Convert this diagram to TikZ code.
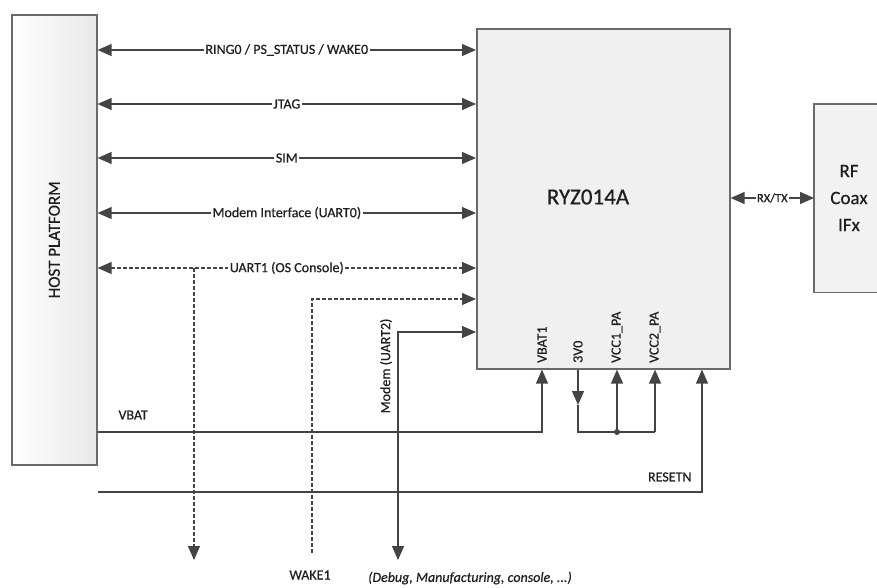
\documentclass[tikz,border=0pt]{standalone}
\usepackage{fontspec}
\setmainfont{Carlito}[FakeBold=0.5]
\usetikzlibrary{arrows.meta, calc}
\definecolor{wire}{HTML}{444444}
\definecolor{frame}{HTML}{6A6A6A}
\definecolor{ink}{HTML}{1E1E1E}

\begin{document}
\begin{tikzpicture}[
    x=1pt, y=-1pt,
    >={Triangle[length=14pt, width=12pt]},
    blk/.style={draw=frame, line width=1.6pt, inner sep=0pt},
    sig/.style={wire, line width=1.3pt},
    sigdash/.style={sig, dash pattern=on 4pt off 2pt},
    lab/.style={font=\fontsize{14}{16}\selectfont, text=ink},
    onwire/.style={lab, fill=white, inner sep=1.5pt},
    pin/.style={lab, rotate=90, anchor=west, inner sep=0pt},
]
% picture is laid out in pixels, y pointing down
\useasboundingbox (0,0) rectangle (877,588);

% blocks
\node[blk, left color=white, right color=black!9, minimum width=85pt,
    minimum height=450pt, anchor=north west] (host) at (11,14) {};
\node[lab, font=\fontsize{17}{20}\selectfont, rotate=90] (hostlbl)
    at (host.center) {HOST PLATFORM};

\node[blk, fill=black!6, minimum width=253pt, minimum height=340pt,
    anchor=north west] (ryz) at (476,28) {};
\node[lab, font=\fontsize{23}{28}\selectfont] (ryzlbl) at (588,197) {RYZ014A};

\node[fill=black!5, inner sep=0pt, minimum width=63pt, minimum height=188pt,
    anchor=north west] (rf) at (814,104) {};
\draw[frame, line width=1.6pt] (rf.north east) -- (rf.north west)
    -- (rf.south west) -- (rf.south east);
\node[lab, font=\fontsize{19}{27}\selectfont, align=center] (rflbl)
    at (849,198) {RF\\Coax\\IFx};

% host <-> module buses
\foreach \yy/\txt in {50/{RING0 / PS\_STATUS / WAKE0}, 104/JTAG, 158/SIM,
    213/{Modem Interface (UART0)}}
    \draw[sig, <->] (host.east |- 0,\yy) -- node[onwire]{\txt} (ryz.west |- 0,\yy);

\draw[sigdash, <->] (host.east |- 0,268) -- node[onwire]{UART1 (OS Console)}
    (ryz.west |- 0,268);
\coordinate (ostap) at (194,268);
\coordinate (osend) at (194,560);
\draw[sigdash, ->] (ostap) -- (osend);

% WAKE1
\node[lab] (wake) at (310,575) {WAKE1};
\coordinate (wkend) at (312,553);
\draw[sigdash, ->] (wkend) |- (ryz.west |- 0,299);

% UART2 to the outside
\coordinate (dbg) at (398,560);
\draw[sig, <->] (dbg) |- (ryz.west |- 0,332);
\node[lab, rotate=90] (u2lbl) at (386,366) {Modem (UART2)};
\node[lab, font=\fontsize{14}{16}\selectfont\itshape] (dbglbl)
    at (470,578) {(Debug, Manufacturing, console, ...)};

% RF side
\draw[sig, <->] (ryz.east |- 0,198) -- node[onwire, inner sep=1pt,
    font=\fontsize{12.5}{14}\selectfont]{RX/TX} (rf.west |- 0,198);

% supply and reset
\draw[sig, ->] (host.east |- 0,432) -| (ryz.south -| 542,0);
\node[lab, anchor=west] (vbatlbl) at (115,415) {VBAT};

\coordinate (v3tip) at (578,405);
\coordinate (vj) at (617,432);
\coordinate (v3r) at (655,432);
\draw[sig, ->] (ryz.south -| v3tip) -- (v3tip);
\draw[sig] (v3tip) |- (v3r);
\draw[sig, ->] (vj) -- (ryz.south -| vj);
\draw[sig, ->] (v3r) -- (ryz.south -| v3r);
\fill[wire] (vj) circle (3pt);

\draw[sig, ->] (host.east |- 0,492) -| (ryz.south -| 702,0);
\node[lab, anchor=east] (rstlbl) at (695,477) {RESETN};

% pin names inside the module
\node[pin] (p1) at (542,363) {VBAT1};
\node[pin] (p2) at (578,363) {3V0};
\node[pin] (p3) at (617,363) {VCC1\_PA};
\node[pin] (p4) at (655,363) {VCC2\_PA};

\end{tikzpicture}
\end{document}
